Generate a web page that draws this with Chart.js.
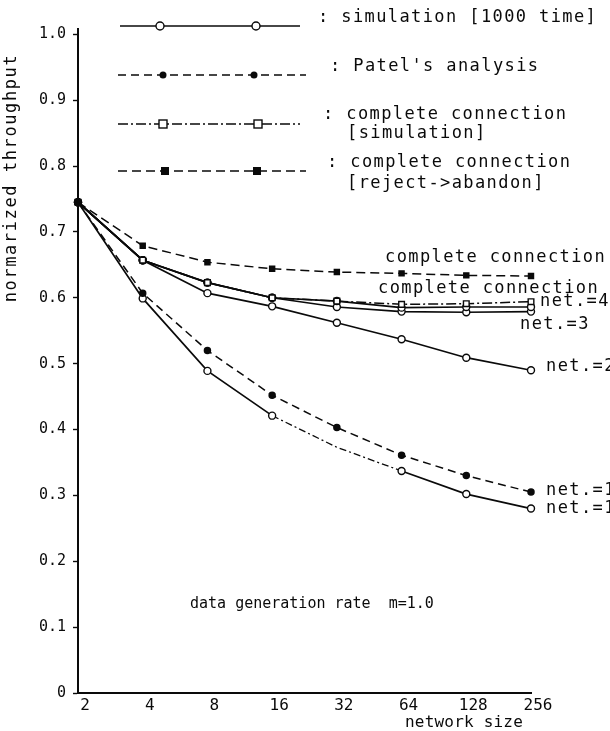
<!DOCTYPE html>
<html>
<head>
<meta charset="utf-8">
<script src="https://cdn.jsdelivr.net/npm/chart.js@4.4.1/dist/chart.umd.min.js"></script>
<style>
    html, body { margin: 0; padding: 0; background: #fff; }
    canvas { display: block; }
</style>
</head>
<body>
<canvas id="throughputChart" width="610" height="731"></canvas>
<script>
// network size (log2 steps, drawn evenly spaced)
const sizes = ['2', '4', '8', '16', '32', '64', '128', '256'];
const yTicks = [0, 0.1, 0.2, 0.3, 0.4, 0.5, 0.6, 0.7, 0.8, 0.9, 1.0];
const yLabels = ['0', '0.1', '0.2', '0.3', '0.4', '0.5', '0.6', '0.7', '0.8', '0.9', '1.0'];

// normarized throughput
const rejectAbandon = [0.745, 0.679, 0.654, 0.644, 0.639, 0.637, 0.634, 0.633];
const completeSim   = [0.745, 0.657, 0.623, 0.600, 0.595, 0.590, 0.591, 0.594];
const simNet4       = [0.745, 0.657, 0.623, 0.600, 0.595, 0.585, 0.586, 0.586];
const simNet3       = [0.745, 0.657, 0.623, 0.600, 0.586, 0.579, 0.578, 0.579];
const simNet2       = [0.745, 0.657, 0.607, 0.587, 0.562, 0.537, 0.509, 0.490];
const patelNet1     = [0.745, 0.607, 0.520, 0.452, 0.403, 0.361, 0.330, 0.305];
const simNet1       = [0.745, 0.599, 0.489, 0.421, 0.373, 0.337, 0.302, 0.280];

const INK = '#0a0a0a';
const MONO = '"DejaVu Sans Mono", "Liberation Mono", monospace';

function openCircles(label, data) {
    return {
        label: label,
        data: data,
        borderColor: INK,
        borderWidth: 1.7,
        pointStyle: 'circle',
        pointRadius: 3.5,
        pointBorderWidth: 1.4,
        pointBackgroundColor: '#fff',
        pointBorderColor: INK,
        tension: 0,
        clip: false
    };
}

const datasets = [
    {
        label: 'complete connection [reject->abandon]',
        data: rejectAbandon,
        borderColor: INK,
        borderWidth: 1.5,
        borderDash: [9, 5],
        pointStyle: 'rect',
        pointRadius: 3.5,
        pointBackgroundColor: INK,
        pointBorderColor: INK,
        tension: 0,
        clip: false
    },
    {
        label: 'complete connection [simulation]',
        data: completeSim,
        borderColor: INK,
        borderWidth: 1.5,
        borderDash: [10, 3, 2, 3],
        pointStyle: 'rect',
        pointRadius: 4,
        pointBorderWidth: 1.4,
        pointBackgroundColor: '#fff',
        pointBorderColor: INK,
        tension: 0,
        clip: false
    },
    openCircles('net.=4', simNet4),
    openCircles('net.=3', simNet3),
    openCircles('net.=2', simNet2),
    {
        label: "Patel's analysis net.=1",
        data: patelNet1,
        borderColor: INK,
        borderWidth: 1.5,
        borderDash: [8, 5],
        pointStyle: 'circle',
        pointRadius: 3,
        pointBackgroundColor: INK,
        pointBorderColor: INK,
        tension: 0,
        clip: false
    },
    Object.assign(openCircles('net.=1', simNet1), {
        pointRadius: ctx => ctx.dataIndex === 4 ? 0 : 3.5,
        segment: {
            borderDash: ctx => (ctx.p0DataIndex === 3 || ctx.p0DataIndex === 4) ? [7, 3, 2, 3] : undefined,
            borderWidth: ctx => (ctx.p0DataIndex === 3 || ctx.p0DataIndex === 4) ? 1.3 : undefined
        }
    })
];

function spacedText(ctx, text, x, y, size, spacing) {
    ctx.font = size + 'px ' + MONO;
    ctx.letterSpacing = spacing + 'px';
    ctx.fillText(text, x, y);
    ctx.letterSpacing = '0px';
}

function legendSample(ctx, y, x0, x1, dash, marks, drawMark) {
    ctx.save();
    ctx.strokeStyle = INK;
    ctx.lineWidth = 1.6;
    ctx.setLineDash(dash);
    ctx.beginPath();
    ctx.moveTo(x0, y);
    ctx.lineTo(x1, y);
    ctx.stroke();
    ctx.setLineDash([]);
    marks.forEach(mx => drawMark(mx, y));
    ctx.restore();
}

const annotations = {
    id: 'annotations',
    afterDraw(chart) {
        const ctx = chart.ctx;
        ctx.save();
        ctx.fillStyle = INK;
        ctx.textBaseline = 'middle';
        ctx.textAlign = 'left';

        // legend rows
        legendSample(ctx, 26, 120, 300, [], [160, 256], (x, y) => {
            ctx.beginPath(); ctx.arc(x, y, 4, 0, Math.PI * 2);
            ctx.fillStyle = '#fff'; ctx.fill(); ctx.lineWidth = 1.4; ctx.stroke();
        });
        legendSample(ctx, 75, 118, 306, [8, 5], [163, 254], (x, y) => {
            ctx.beginPath(); ctx.arc(x, y, 3.5, 0, Math.PI * 2);
            ctx.fillStyle = INK; ctx.fill();
        });
        legendSample(ctx, 124, 118, 300, [10, 3, 2, 3], [163, 258], (x, y) => {
            ctx.fillStyle = '#fff'; ctx.fillRect(x - 4, y - 4, 8, 8);
            ctx.lineWidth = 1.4; ctx.strokeRect(x - 4, y - 4, 8, 8);
        });
        legendSample(ctx, 171, 118, 306, [9, 5], [165, 257], (x, y) => {
            ctx.fillStyle = INK; ctx.fillRect(x - 4, y - 4, 8, 8);
        });

        ctx.fillStyle = INK;
        spacedText(ctx, ': simulation [1000 time]', 318, 18, 17, 1.4);
        spacedText(ctx, ": Patel's analysis", 330, 67, 17, 1.4);
        spacedText(ctx, ': complete connection', 323, 115, 17, 1.4);
        spacedText(ctx, '[simulation]', 347, 134, 17, 1.4);
        spacedText(ctx, ': complete connection', 327, 163, 17, 1.4);
        spacedText(ctx, '[reject->abandon]', 347, 184, 17, 1.4);

        // curve labels
        spacedText(ctx, 'complete connection', 385, 258, 17, 1.4);
        spacedText(ctx, 'complete connection', 378, 289, 17, 1.4);
        spacedText(ctx, 'net.=4', 540, 302, 17, 1.4);
        spacedText(ctx, 'net.=3', 520, 325, 17, 1.4);
        spacedText(ctx, 'net.=2', 546, 367, 17, 1.4);
        spacedText(ctx, 'net.=1', 546, 491, 17, 1.4);
        spacedText(ctx, 'net.=1', 546, 509, 17, 1.4);

        spacedText(ctx, 'data generation rate  m=1.0', 190, 604, 15, 0);
        spacedText(ctx, 'network size', 405, 723, 16, 0.2);

        // y axis title
        ctx.save();
        ctx.translate(12, 178);
        ctx.rotate(-Math.PI / 2);
        ctx.textAlign = 'center';
        spacedText(ctx, 'normarized throughput', 0, 0, 17, 1.6);
        ctx.restore();

        ctx.restore();
    }
};

const chart = new Chart(document.getElementById('throughputChart'), {
    type: 'line',
    data: {
        labels: sizes,
        datasets: datasets
    },
    options: {
        responsive: false,
        animation: false,
        devicePixelRatio: 1,
        layout: {
            padding: { top: 29, right: 79, left: 0, bottom: 0 }
        },
        plugins: {
            legend: { display: false },
            tooltip: { enabled: false }
        },
        scales: {
            x: {
                type: 'category',
                offset: false,
                afterFit: scale => { scale.height = 38; },
                grid: { drawOnChartArea: false, drawTicks: false },
                border: { display: true, color: INK, width: 2 },
                ticks: {
                    color: INK,
                    font: { family: MONO, size: 16 },
                    padding: 3,
                    labelOffset: 7,
                    maxRotation: 0,
                    autoSkip: false
                }
            },
            y: {
                min: 0,
                max: 1.008,
                afterFit: scale => { scale.width = 78; },
                afterBuildTicks: scale => {
                    scale.ticks = yTicks.map(v => ({ value: v }));
                },
                grid: { drawOnChartArea: false, drawTicks: true, tickLength: 5, color: INK, tickWidth: 1.4 },
                border: { display: true, color: INK, width: 2 },
                ticks: {
                    color: INK,
                    font: { family: MONO, size: 15 },
                    padding: 7,
                    callback: (value, index) => yLabels[index]
                }
            }
        }
    },
    plugins: [annotations]
});
</script>
</body>
</html>
